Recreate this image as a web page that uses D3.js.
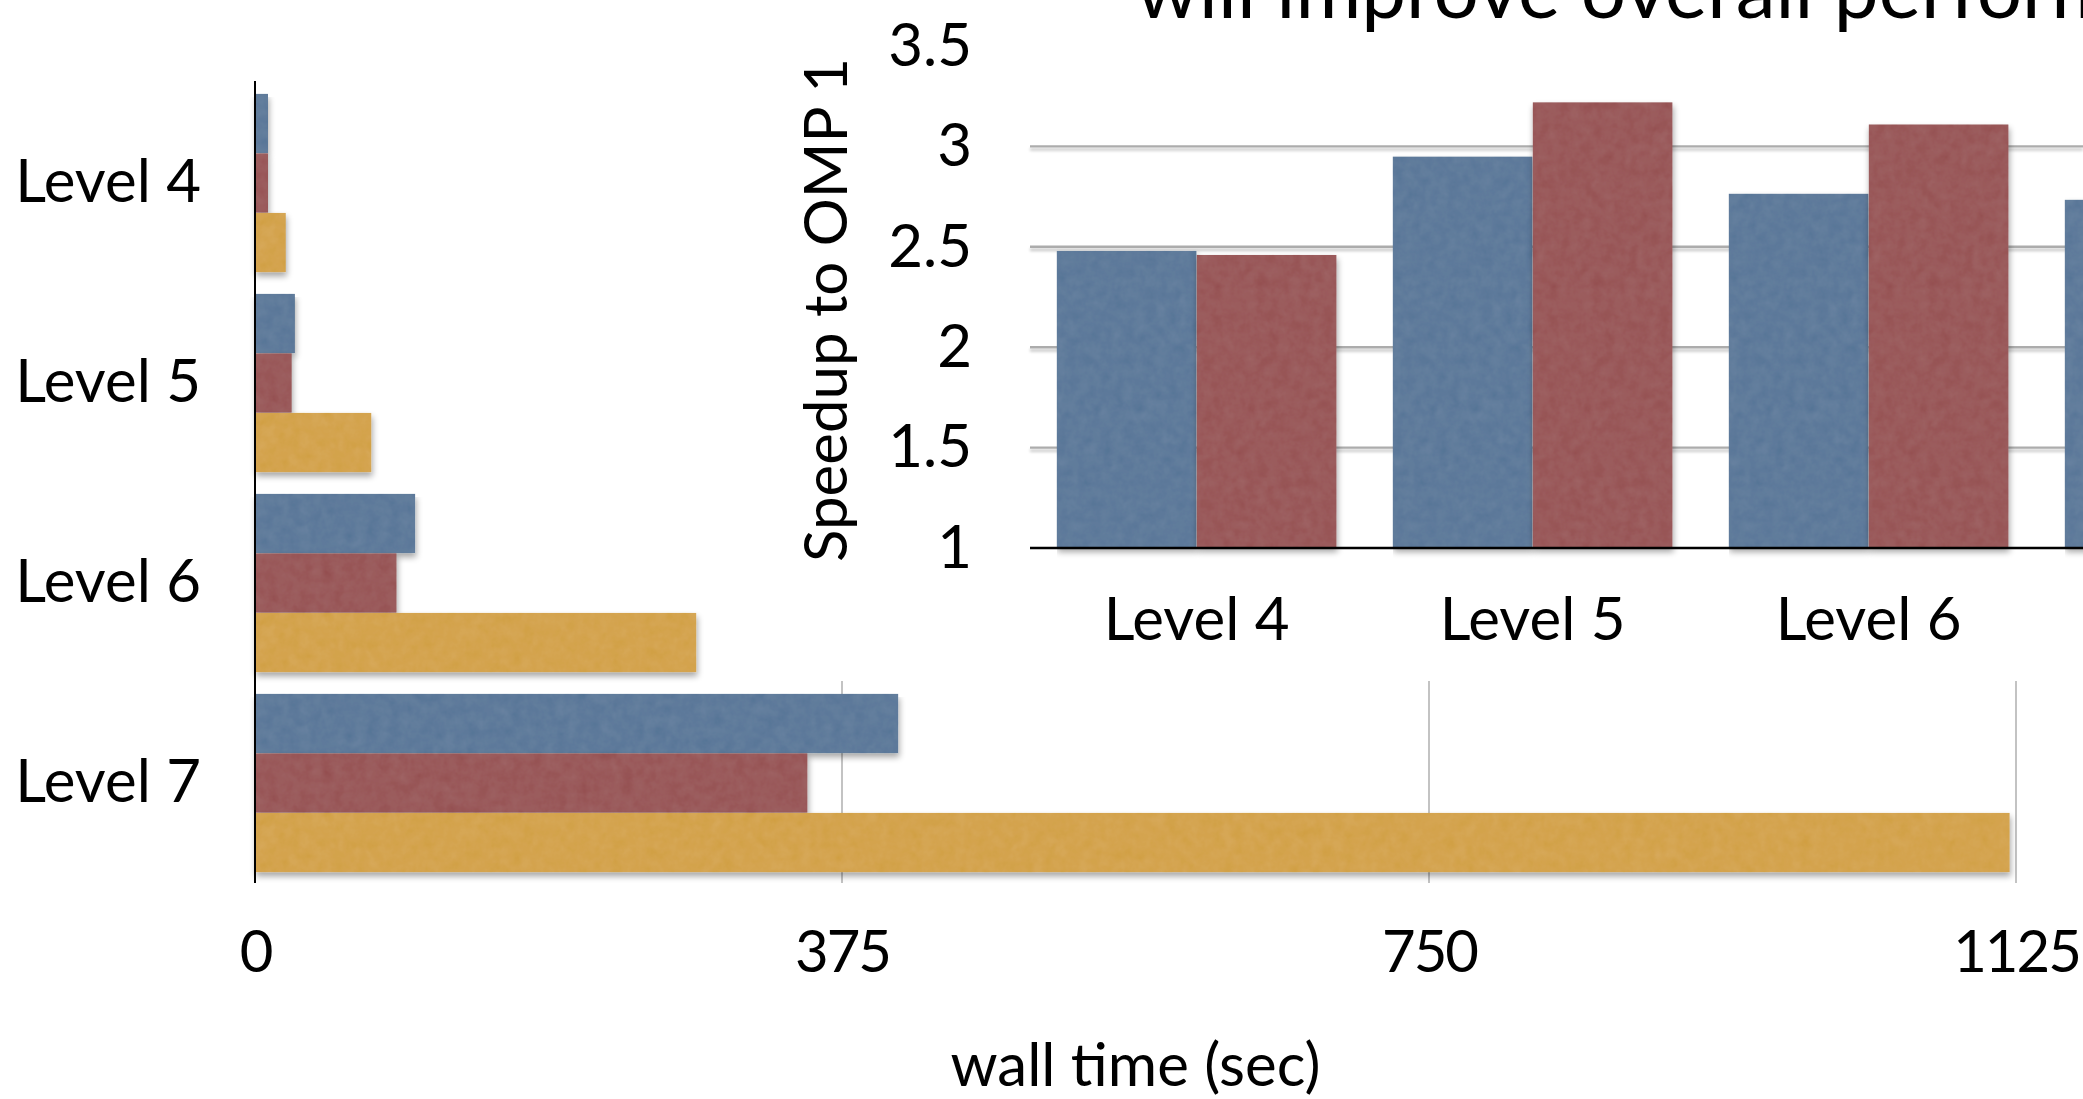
<!DOCTYPE html>
<html>
<head>
<meta charset="utf-8">
<script src="https://cdn.jsdelivr.net/npm/d3@7"></script>
<style>
  html, body { margin: 0; padding: 0; background: #ffffff; overflow: hidden; }
  svg { display: block; }
  text { font-family: Lato, "Open Sans", "Noto Sans", sans-serif; fill: #000; }
</style>
</head>
<body>
<svg id="chart" width="2083" height="1099"></svg>
<script>
// ---- data -------------------------------------------------------------
const levels = ["Level 4", "Level 5", "Level 6", "Level 7"];

// wall time in seconds, one value per level
const wallSeries = ["config A", "config B", "OMP 1"];
const wallTimeA = [8.3, 25.5, 102.4, 411];
const wallTimeB = [8.3, 23.5, 90.5, 353];
const wallTimeOmp1 = [19.7, 74.4, 282, 1121];
const wallTicks = [0, 375, 750, 1125];

// speedup relative to OMP 1, one value per level
const speedSeries = ["config A", "config B"];
const speedupA = [2.48, 2.95, 2.765, 2.735];
const speedupB = [2.46, 3.22, 3.11, 3.17];
const speedTicks = [1, 1.5, 2, 2.5, 3, 3.5];
const speedGrid = [1.5, 2, 2.5, 3];

const titleText = "will improve overall performance";
const wallLabel = "wall time (sec)";
const speedLabel = "Speedup to OMP 1";

// ---- styles ----------------------------------------------------------
const palette = { "config A": "#5f7b9b", "config B": "#9a5a5b", "OMP 1": "#d4a44f" };
const FONT = 60;

const svg = d3.select("#chart");
const W = 2083, H = 1099;

// paper-like grain plus a soft drop shadow for the bars
const defs = svg.append("defs");
const paper = defs.append("filter").attr("id", "paper")
  .attr("filterUnits", "userSpaceOnUse")
  .attr("x", 0).attr("y", 0).attr("width", W).attr("height", H);
paper.append("feTurbulence").attr("type", "fractalNoise")
  .attr("baseFrequency", 0.09).attr("numOctaves", 3).attr("seed", 5).attr("result", "noise");
paper.append("feColorMatrix").attr("in", "noise").attr("type", "matrix")
  .attr("values", "0.33 0.33 0.33 0 0  0.33 0.33 0.33 0 0  0.33 0.33 0.33 0 0  0 0 0 0 1")
  .attr("result", "grey");
paper.append("feComposite").attr("in", "SourceGraphic").attr("in2", "grey")
  .attr("operator", "arithmetic").attr("k1", 0).attr("k2", 1).attr("k3", 0.09).attr("k4", -0.045)
  .attr("result", "tex");
paper.append("feComposite").attr("in", "tex").attr("in2", "SourceAlpha")
  .attr("operator", "in").attr("result", "texClip");
paper.append("feGaussianBlur").attr("in", "SourceAlpha").attr("stdDeviation", 3).attr("result", "blur");
paper.append("feOffset").attr("in", "blur").attr("dx", 1).attr("dy", 4).attr("result", "off");
paper.append("feComponentTransfer").attr("in", "off").attr("result", "shadow")
  .append("feFuncA").attr("type", "linear").attr("slope", 0.35);
const pm = paper.append("feMerge");
pm.append("feMergeNode").attr("in", "shadow");
pm.append("feMergeNode").attr("in", "texClip");

const lineShadow = defs.append("filter").attr("id", "lineShadow")
  .attr("filterUnits", "userSpaceOnUse")
  .attr("x", 0).attr("y", 0).attr("width", W).attr("height", H);
lineShadow.append("feGaussianBlur").attr("in", "SourceAlpha").attr("stdDeviation", 1.5).attr("result", "b");
lineShadow.append("feOffset").attr("in", "b").attr("dx", 0).attr("dy", 3).attr("result", "o");
lineShadow.append("feComponentTransfer").attr("in", "o").attr("result", "s")
  .append("feFuncA").attr("type", "linear").attr("slope", 0.25);
const lm = lineShadow.append("feMerge");
lm.append("feMergeNode").attr("in", "s");
lm.append("feMergeNode").attr("in", "SourceGraphic");

// ---- wall time chart (horizontal bars) ---------------------------------
const wallRows = levels.map((lv, i) => ({
  level: lv,
  values: [
    { key: "config A", v: wallTimeA[i] },
    { key: "config B", v: wallTimeB[i] },
    { key: "OMP 1", v: wallTimeOmp1[i] }
  ]
}));

const xW = d3.scaleLinear().domain([0, 1125]).range([255, 2016]);
const yW = d3.scaleBand().domain(levels).range([83, 883]).paddingInner(0.107).paddingOuter(0.0535);
const yW2 = d3.scaleBand().domain(wallSeries).range([0, yW.bandwidth()]);

// vertical gridlines
svg.append("g").selectAll("line")
  .data(wallTicks.filter(d => d > 0))
  .join("line")
  .attr("x1", d => xW(d)).attr("x2", d => xW(d))
  .attr("y1", 81).attr("y2", 883)
  .attr("stroke", "#b4b4b4").attr("stroke-width", 1.6);

const wallG = svg.append("g");
wallG.selectAll("g.row")
  .data(wallRows)
  .join("g").attr("class", "row")
  .attr("transform", d => `translate(0,${yW(d.level)})`)
  .selectAll("rect")
  .data(d => d.values)
  .join("rect")
  .attr("x", xW(0))
  .attr("y", d => yW2(d.key))
  .attr("width", d => xW(d.v) - xW(0))
  .attr("height", yW2.bandwidth())
  .attr("fill", d => palette[d.key])
  .attr("filter", "url(#paper)");

// level axis
const yAxisW = svg.append("g").attr("transform", `translate(${xW(0)},0)`)
  .call(d3.axisLeft(yW).tickSize(0).tickPadding(54));
yAxisW.select(".domain").remove();
yAxisW.selectAll("text").attr("font-size", FONT).attr("font-family", null);
svg.append("line")
  .attr("x1", xW(0)).attr("x2", xW(0))
  .attr("y1", 81).attr("y2", 883)
  .attr("stroke", "#000").attr("stroke-width", 2);

// value axis
const xAxisW = svg.append("g").attr("transform", `translate(0,883)`)
  .call(d3.axisBottom(xW).tickValues(wallTicks).tickSize(0).tickPadding(48).tickFormat(d => String(d)));
xAxisW.select(".domain").remove();
xAxisW.selectAll("text").attr("font-size", 58).attr("font-family", null)
  .attr("letter-spacing", -2);

svg.append("text")
  .attr("x", (xW(0) + xW(1125)) / 2).attr("y", 1086)
  .attr("text-anchor", "middle").attr("font-size", FONT)
  .text(wallLabel);

// ---- speedup chart (vertical bars, drawn on top) ------------------------
const inset = svg.append("g");
inset.append("rect").attr("x", 780).attr("y", 0).attr("width", W - 780).attr("height", 681)
  .attr("fill", "#ffffff");

const speedRows = levels.map((lv, i) => ({
  level: lv,
  values: [
    { key: "config A", v: speedupA[i] },
    { key: "config B", v: speedupB[i] }
  ]
}));

const ySp = d3.scaleLinear().domain([1, 3.5]).range([548, 46]);
const xSp = d3.scaleBand().domain(levels).range([1028.6, 2372.6]).paddingInner(1 / 6).paddingOuter(1 / 12);
const xSp2 = d3.scaleBand().domain(speedSeries).range([0, xSp.bandwidth()]);

inset.append("g").selectAll("line")
  .data(speedGrid)
  .join("line")
  .attr("x1", 1030).attr("x2", W)
  .attr("y1", d => ySp(d)).attr("y2", d => ySp(d))
  .attr("stroke", "#acacac").attr("stroke-width", 2.4)
  .attr("filter", "url(#lineShadow)");

inset.append("g").selectAll("g.grp")
  .data(speedRows)
  .join("g").attr("class", "grp")
  .attr("transform", d => `translate(${xSp(d.level)},0)`)
  .selectAll("rect")
  .data(d => d.values)
  .join("rect")
  .attr("x", d => xSp2(d.key))
  .attr("y", d => ySp(d.v))
  .attr("width", xSp2.bandwidth())
  .attr("height", d => ySp(1) - ySp(d.v))
  .attr("fill", d => palette[d.key])
  .attr("filter", "url(#paper)");

// baseline
inset.append("line")
  .attr("x1", 1030).attr("x2", W)
  .attr("y1", ySp(1)).attr("y2", ySp(1))
  .attr("stroke", "#000").attr("stroke-width", 2.5);

const yAxisSp = inset.append("g").attr("transform", `translate(1030,0)`)
  .call(d3.axisLeft(ySp).tickValues(speedTicks).tickSize(0).tickPadding(58).tickFormat(d => String(d)));
yAxisSp.select(".domain").remove();
yAxisSp.selectAll("text").attr("font-size", FONT).attr("font-family", null);

const xAxisSp = inset.append("g").attr("transform", `translate(0,${ySp(1)})`)
  .call(d3.axisBottom(xSp).tickSize(0).tickPadding(49));
xAxisSp.select(".domain").remove();
xAxisSp.selectAll("text").attr("font-size", FONT).attr("font-family", null);

inset.append("text")
  .attr("transform", `translate(847,${(70 + 550) / 2}) rotate(-90)`)
  .attr("text-anchor", "middle").attr("font-size", FONT)
  .text(speedLabel);

// title, running off the top and right edges
svg.append("text")
  .attr("x", 1136).attr("y", 18)
  .attr("font-size", 80)
  .text(titleText);
</script>
</body>
</html>
